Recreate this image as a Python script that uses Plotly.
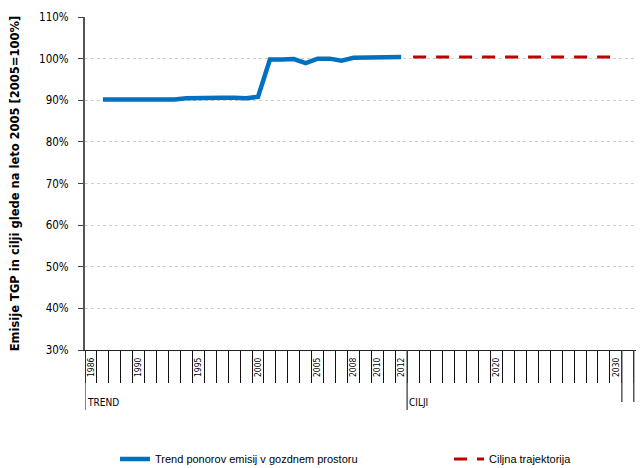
import plotly.graph_objects as go

# ---- data ----
trend_years = list(range(1987, 2013))
trend_values = [90.2, 90.2, 90.3, 90.3, 90.1, 90.1, 90.2, 90.5, 90.6, 90.6,
                90.6, 90.6, 90.5, 90.8, 99.8, 99.8, 99.9, 98.9, 100.0, 100.0,
                99.5, 100.2, 100.3, 100.3, 100.4, 100.4]
target_years = list(range(2013, 2031))
target_values = [100.4] * len(target_years)

label_years = [1986, 1990, 1995, 2000, 2005, 2008, 2010, 2012, 2020, 2030]
group_names = ["TREND", "CILJI"]
group_starts = [1986, 2013]
group_bounds = [1986, 2013, 2031, 2032]  # start years of level-2 groups

first_year = 1986

TICKFONT = "DejaVu Sans Condensed, DejaVu Sans, sans-serif"
LEGFONT = dict(family="Liberation Sans, Arial, sans-serif", size=11, color="#000")

# page body adds an 8px offset; size the figure so the plot area lands right
W, H = 636, 460

fig = go.Figure()
fig.add_trace(go.Scatter(
    x=trend_years, y=[v / 100 for v in trend_values], mode="lines",
    name="Trend ponorov emisij v gozdnem prostoru",
    line=dict(color="#0070C0", width=4.5, shape="linear"),
    legend="legend",
))
fig.add_trace(go.Scatter(
    x=target_years, y=[v / 100 for v in target_values], mode="lines",
    name="Ciljna trajektorija",
    line=dict(color="#C00000", width=3, dash="13px,10px"),
    legend="legend2",
))

# long group boundary lines
for i, b in enumerate(group_bounds):
    bottom = -0.18 if i < 2 else -0.156
    fig.add_shape(type="line", xref="x", yref="paper",
                  x0=b - 0.5, x1=b - 0.5, y0=0, y1=bottom,
                  line=dict(color="#404040", width=1.3), layer="above")

# group labels
for name, s in zip(group_names, group_starts):
    fig.add_annotation(x=s - 0.5, xref="x", xanchor="left", xshift=0,
                       y=-0.158, yref="paper", yanchor="middle",
                       text=name, showarrow=False,
                       font=dict(family=TICKFONT, size=10, color="#000"))

leg_y = 1 - (459 - 8) / H
fig.update_layout(
    width=W, height=H,
    margin=dict(l=77, r=0, t=9, b=118),
    paper_bgcolor="white", plot_bgcolor="white",
    showlegend=True,
    legend=dict(orientation="h", xref="container", yref="container",
                x=(115 - 8) / W, y=leg_y, xanchor="left", yanchor="middle",
                font=LEGFONT, bgcolor="rgba(0,0,0,0)"),
    legend2=dict(orientation="h", xref="container", yref="container",
                 x=(449 - 8) / W, y=leg_y, xanchor="left", yanchor="middle",
                 font=LEGFONT, bgcolor="rgba(0,0,0,0)"),
    xaxis=dict(
        range=[first_year - 0.5, first_year - 0.5 + 559 / 11.93],
        tickmode="array", tickvals=label_years, ticktext=[str(y) for y in label_years],
        tickangle=-90, ticks="", ticklabelstandoff=3, automargin=False,
        tickfont=dict(family=TICKFONT, size=8.5, color="#000"),
        showgrid=False, zeroline=False,
        showline=True, linecolor="#222", linewidth=1.3,
        minor=dict(tickmode="linear", tick0=first_year - 0.5, dtick=1,
                   ticks="outside", ticklen=32, tickcolor="#111", tickwidth=1,
                   showgrid=False),
    ),
    yaxis=dict(
        range=[0.3, 1.1], tickmode="linear", tick0=0.3, dtick=0.1,
        tickformat=".0%", automargin=False,
        ticks="outside", ticklen=5, tickcolor="#404040", ticklabelstandoff=7,
        tickfont=dict(family=TICKFONT, size=11.5, color="#000"),
        showgrid=True, gridcolor="#cfcfcf", griddash="dot", gridwidth=1,
        zeroline=False, showline=True, linecolor="#555", linewidth=2,
        title=dict(text="Emisije TGP in cilji glede na leto 2005 [2005=100%]",
                   font=dict(family="DejaVu Sans, sans-serif", size=11.5, color="#000",
                             weight="bold"),
                   standoff=21),
    ),
)

fig.write_html("out.html")
